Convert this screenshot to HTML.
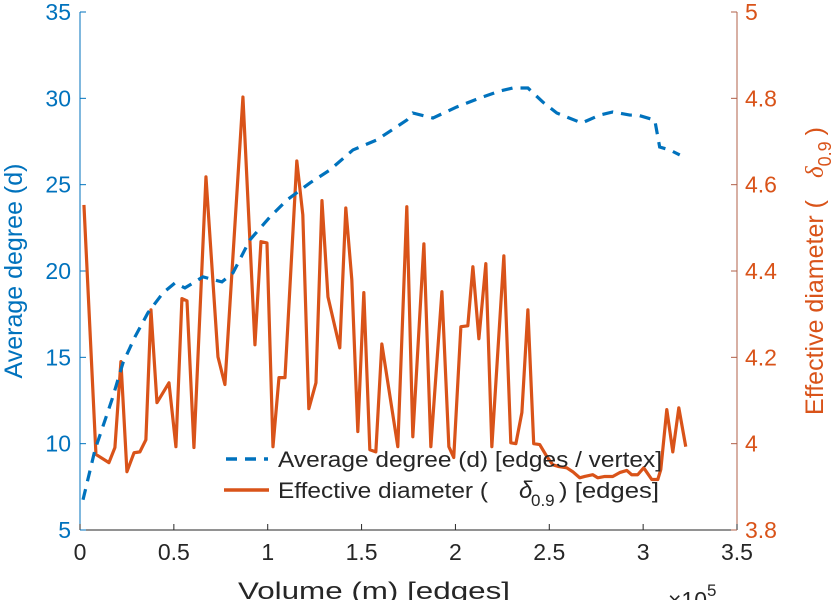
<!DOCTYPE html>
<html><head><meta charset="utf-8"><style>
body{margin:0;background:#fff;}
svg text{font-family:"Liberation Sans",sans-serif;}
</style></head><body>
<svg id="chart" width="838" height="600" xmlns="http://www.w3.org/2000/svg">
<g id="axes"></g>
<g id="series"></g>
<g id="legend">
 <line x1="226" y1="459" x2="268" y2="459" stroke="#0072BD" stroke-width="3.5" stroke-dasharray="11,8"/>
 <text x="278" y="467" font-size="22" textLength="384" lengthAdjust="spacingAndGlyphs" fill="#262626">Average degree (d) [edges / vertex]</text>
 <line x1="224" y1="490" x2="269" y2="490" stroke="#D95319" stroke-width="3.5"/>
 <g>
 <text x="278" y="498" font-size="22" textLength="210" lengthAdjust="spacingAndGlyphs" fill="#262626">Effective diameter (</text>
 <text x="519" y="498" font-size="24" font-style="italic" font-family="Liberation Serif" fill="#262626">δ</text>
 <text x="531" y="506" font-size="17" fill="#262626">0.9</text>
 <text x="559" y="498" font-size="22" textLength="100" lengthAdjust="spacingAndGlyphs" fill="#262626">) [edges]</text>
 </g>
</g>
</svg>
<script>
const degX=[0.016,0.080,0.170,0.229,0.293,0.362,0.442,0.506,0.559,0.655,0.756,0.815,0.905,1.012,1.102,1.225,1.331,1.454,1.581,1.741,1.773,1.880,2.007,2.130,2.236,2.306,2.386,2.465,2.540,2.673,2.769,2.838,2.929,2.971,3.062,3.088,3.142,3.195];
const degY=[6.75,9.65,12.54,14.68,16.19,17.58,18.73,19.31,19.02,19.66,19.37,19.89,21.80,23.13,24.11,25.10,25.85,27.01,27.59,28.74,29.15,28.86,29.50,30.02,30.42,30.60,30.60,29.79,29.15,28.57,29.03,29.21,29.03,29.03,28.74,27.18,27.01,26.72];
const diaX=[0.021,0.085,0.154,0.186,0.218,0.250,0.288,0.319,0.351,0.378,0.410,0.474,0.511,0.543,0.570,0.607,0.671,0.735,0.772,0.868,0.932,0.964,0.996,1.028,1.060,1.092,1.155,1.187,1.219,1.257,1.289,1.321,1.384,1.416,1.448,1.480,1.512,1.544,1.576,1.608,1.693,1.741,1.773,1.832,1.869,1.928,1.965,1.991,2.029,2.066,2.093,2.125,2.162,2.194,2.258,2.295,2.322,2.354,2.386,2.417,2.449,2.487,2.519,2.551,2.593,2.625,2.662,2.689,2.732,2.758,2.796,2.838,2.875,2.913,2.939,2.971,3.003,3.046,3.078,3.094,3.126,3.158,3.190,3.227];
const diaY=[4.553,3.975,3.956,3.991,4.190,3.935,3.979,3.981,4.009,4.310,4.095,4.141,3.993,4.336,4.331,3.991,4.618,4.201,4.137,4.803,4.229,4.468,4.465,3.993,4.153,4.153,4.655,4.530,4.081,4.141,4.563,4.340,4.222,4.546,4.380,4.028,4.350,3.986,3.981,4.231,3.993,4.549,4.016,4.463,3.993,4.352,3.993,3.968,4.271,4.273,4.410,4.243,4.417,3.993,4.435,4.002,4.000,4.072,4.310,4.000,3.998,3.970,3.951,3.947,3.944,3.935,3.921,3.924,3.928,3.921,3.924,3.924,3.933,3.938,3.928,3.928,3.944,3.917,3.917,3.940,4.079,3.981,4.083,3.993];
const xTicks=[0,0.5,1,1.5,2,2.5,3,3.5];
const xTickLabels=["0","0.5","1","1.5","2","2.5","3","3.5"];
const yLTicks=[5,10,15,20,25,30,35];
const yRTicks=[3.8,4,4.2,4.4,4.6,4.8,5];
const yRTickLabels=["3.8","4","4.2","4.4","4.6","4.8","5"];

const L=80,R=737,T=12,B=530;
const sx=v=>L+(v-0)/3.5*(R-L);
const syL=v=>B-(v-5)/30*(B-T);
const syR=v=>B-(v-3.8)/1.2*(B-T);
const NS="http://www.w3.org/2000/svg";
const ax=document.getElementById('axes'), se=document.getElementById('series');
function mk(tag,attrs,parent){const e=document.createElementNS(NS,tag);for(const k in attrs)e.setAttribute(k,attrs[k]);parent.appendChild(e);return e;}

let e=mk('line',{x1:L,y1:B,x2:R,y2:B,stroke:'#262626','stroke-width':1},ax);


e=mk('line',{x1:L,y1:T,x2:L,y2:B,stroke:'#0072BD','stroke-width':1},ax);


e=mk('line',{x1:R,y1:T,x2:R,y2:B,stroke:'#B06048','stroke-width':1},ax);



xTicks.forEach((v,i)=>{
  const x=sx(v);
  mk('line',{x1:x,y1:B,x2:x,y2:B-6,stroke:'#262626'},ax);
  const t=mk('text',{x:x,y:560,'font-size':23,fill:'#262626','text-anchor':'middle'},ax);
  t.textContent=xTickLabels[i];
  
  
});
yLTicks.forEach(v=>{
  const y=syL(v);
  mk('line',{x1:L,y1:y,x2:L+6,y2:y,stroke:'#0072BD'},ax);
  const t=mk('text',{x:L-9,y:y+8,'font-size':23,fill:'#0072BD','text-anchor':'end'},ax);
  t.textContent=String(v);
  
  
});
yRTicks.forEach((v,i)=>{
  const y=syR(v);
  mk('line',{x1:R,y1:y,x2:R-6,y2:y,stroke:'#B06048'},ax);
  const t=mk('text',{x:R+8,y:y+8,'font-size':23,fill:'#D95319'},ax);
  t.textContent=yRTickLabels[i];
  
  
});
let t=mk('text',{x:238,y:599,'font-size':24,fill:'#262626',textLength:272,lengthAdjust:'spacingAndGlyphs'},ax);
t.textContent='Volume (m) [edges]';


t=mk('text',{x:668,y:608,'font-size':23,fill:'#262626'},ax);
t.innerHTML='×10<tspan font-size="17" dy="-12">5</tspan>';


t=mk('text',{x:0,y:0,'font-size':25,fill:'#0072BD','text-anchor':'middle',transform:'translate(22,271) rotate(-90)'},ax);
t.textContent='Average degree (d)';


t=mk('text',{x:0,y:0,'font-size':25,fill:'#D95319','text-anchor':'middle',transform:'translate(823,271) rotate(-90)'},ax);
t.innerHTML='Effective diameter (<tspan dx="22" font-style="italic" font-family="Liberation Serif">δ</tspan><tspan font-size="18" dy="8">0.9</tspan><tspan dy="-8" dx="6">)</tspan>';



let p=mk('polyline',{points:diaX.map((v,i)=>sx(v)+','+syR(diaY[i])).join(' '),fill:'none',stroke:'#D95319','stroke-width':3.2,'stroke-linejoin':'round'},se);


p=mk('polyline',{points:degX.map((v,i)=>sx(v)+','+syL(degY[i])).join(' '),fill:'none',stroke:'#0072BD','stroke-width':3.2,'stroke-dasharray':'11,8'},se);


</script>
</body></html>
